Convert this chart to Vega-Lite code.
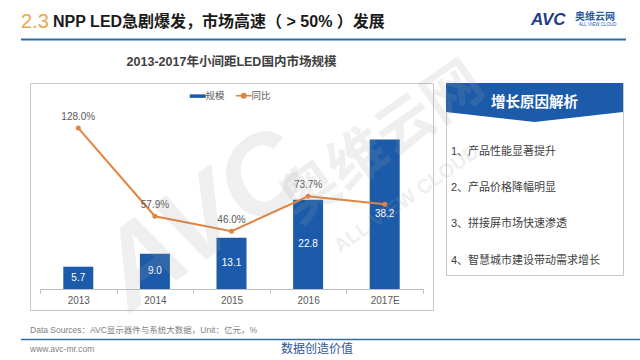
{
  "$schema": "https://vega.github.io/schema/vega-lite/v6.json",
  "background": "white",
  "padding": {"left": 18, "top": 0, "right": 0, "bottom": 0},
  "config": {
    "font": "Liberation Sans, Noto Sans CJK SC, sans-serif",
    "view": {"stroke": null}
  },
  "spacing": 0,
  "bounds": "flush",
  "resolve": {"scale": {"color": "independent"}, "legend": {"color": "independent"}},
  "vconcat": [
    {
      "width": 605,
      "height": 83,
      "layer": [
        {
          "data": {"values": [{"t": "2.3"}]},
          "mark": {"type": "text", "align": "left", "baseline": "middle", "fontSize": 20, "font": "Liberation Sans Narrow, Liberation Sans, sans-serif", "color": "#E9A74F"},
          "encoding": {
            "text": {"field": "t"},
            "x": {"datum": 0, "type": "quantitative", "scale": {"domain": [0, 1]}, "axis": null},
            "y": {"datum": 0.265, "type": "quantitative", "scale": {"domain": [0, 1], "reverse": true}, "axis": null}
          }
        },
        {
          "data": {"values": [{"t": "NPP LED急剧爆发，市场高速（ > 50% ）发展"}]},
          "mark": {"type": "text", "align": "left", "baseline": "middle", "fontSize": 16, "fontWeight": "bold", "color": "#1A1A1A"},
          "encoding": {
            "text": {"field": "t"},
            "x": {"datum": 0.053, "type": "quantitative", "scale": {"domain": [0, 1]}, "axis": null},
            "y": {"datum": 0.265, "type": "quantitative", "scale": {"domain": [0, 1], "reverse": true}, "axis": null}
          }
        },
        {
          "data": {"values": [{"t": "AVC"}]},
          "mark": {"type": "text", "align": "left", "baseline": "middle", "fontSize": 17, "fontWeight": "bold", "fontStyle": "italic", "color": "#1F3E8A"},
          "encoding": {
            "text": {"field": "t"},
            "x": {"datum": 0.843, "type": "quantitative", "scale": {"domain": [0, 1]}, "axis": null},
            "y": {"datum": 0.235, "type": "quantitative", "scale": {"domain": [0, 1], "reverse": true}, "axis": null}
          }
        },
        {
          "data": {"values": [{"t": "奥维云网"}]},
          "mark": {"type": "text", "align": "left", "baseline": "middle", "fontSize": 10, "fontWeight": "bold", "color": "#2B5BA8"},
          "encoding": {
            "text": {"field": "t"},
            "x": {"datum": 0.9157, "type": "quantitative", "scale": {"domain": [0, 1]}, "axis": null},
            "y": {"datum": 0.2, "type": "quantitative", "scale": {"domain": [0, 1], "reverse": true}, "axis": null}
          }
        },
        {
          "data": {"values": [{"t": "ALL VIEW CLOUD"}]},
          "mark": {"type": "text", "align": "left", "baseline": "middle", "fontSize": 4.5, "color": "#2B5BA8"},
          "encoding": {
            "text": {"field": "t"},
            "x": {"datum": 0.922, "type": "quantitative", "scale": {"domain": [0, 1]}, "axis": null},
            "y": {"datum": 0.3, "type": "quantitative", "scale": {"domain": [0, 1], "reverse": true}, "axis": null}
          }
        },
        {
          "data": {"values": [{"line": "header"}]},
          "mark": {"type": "rule", "color": "#2E6DA4", "strokeWidth": 2},
          "encoding": {
            "y": {"datum": 0.477, "type": "quantitative", "scale": {"domain": [0, 1], "reverse": true}, "axis": null}
          }
        }
      ]
    },
    {
      "spacing": 8,
      "bounds": "flush",
      "resolve": {"scale": {"color": "independent"}, "legend": {"color": "independent"}},
      "hconcat": [
        {
          "width": 1,
          "height": 1,
          "data": {"values": [{"blank": ""}]},
          "mark": {"type": "point", "opacity": 0},
          "encoding": {}
        },
        {
          "spacing": 13,
          "bounds": "flush",
          "resolve": {"scale": {"color": "independent"}, "legend": {"color": "independent"}},
          "hconcat": [
            {
              "width": 403,
              "height": 227,
              "view": {"stroke": "#C8C8C8", "strokeWidth": 1, "fill": "white"},
              "title": {"text": "2013-2017年小间距LED国内市场规模", "fontSize": 12.5, "fontWeight": "bold", "color": "#404040", "anchor": "middle", "offset": 15},
              "data": {"values": [
                {"year": "2013", "size": 5.7, "yoy": 1.28},
                {"year": "2014", "size": 9.0, "yoy": 0.579},
                {"year": "2015", "size": 13.1, "yoy": 0.46},
                {"year": "2016", "size": 22.8, "yoy": 0.737},
                {"year": "2017E", "size": 38.2, "yoy": 0.675}
              ]},
              "encoding": {
                "x": {
                  "field": "year", "type": "nominal", "sort": null,
                  "scale": {"type": "band", "range": [10, 393], "paddingInner": 0, "paddingOuter": 0},
                  "axis": {"title": null, "orient": "bottom", "offset": -21, "labelAngle": 0, "labelFontSize": 10, "labelColor": "#595959", "domainColor": "#BFBFBF", "tickColor": "#BFBFBF", "tickSize": 4, "tickBand": "extent", "labelPadding": 2, "grid": false}
                }
              },
              "layer": [
                {
                  "mark": {"type": "bar", "width": 30},
                  "encoding": {
                    "y": {"field": "size", "type": "quantitative", "scale": {"domain": [0, 45], "range": [206, 30]}, "axis": null},
                    "color": {
                      "datum": "规模", "type": "nominal",
                      "scale": {"domain": ["规模", "同比"], "range": ["#1C5BAA", "#E2833F"]},
                      "legend": {
                        "orient": "none", "legendX": 163, "legendY": 8, "direction": "horizontal", "title": null,
                        "symbolSize": 256, "symbolType": "stroke", "labelFontSize": 9.5, "labelColor": "#595959", "labelOffset": 3, "columnPadding": 7, "padding": 0,
                        "encode": {"symbols": {"update": {
                          "shape": {"signal": "datum.value === '规模' ? 'M-1,-0.22H1V0.22H-1Z' : 'M-1,0H1M0.28,0A0.28,0.28,0,1,1,-0.28,0A0.28,0.28,0,1,1,0.28,0'"},
                          "fill": {"signal": "datum.value === '规模' ? '#1C5BAA' : '#E2833F'"},
                          "stroke": {"signal": "datum.value === '规模' ? '#1C5BAA' : '#E2833F'"},
                          "strokeWidth": {"signal": "datum.value === '规模' ? 0 : 1.5"},
                          "opacity": {"value": 1}
                        }}}
                      }
                    }
                  }
                },
                {
                  "mark": {"type": "text", "color": "white", "fontSize": 10, "baseline": "middle"},
                  "encoding": {
                    "y": {"field": "size", "type": "quantitative", "scale": {"domain": [0, 90], "range": [206, 30]}, "axis": null},
                    "text": {"field": "size", "type": "quantitative", "format": ".1f"}
                  }
                },
                {
                  "mark": {"type": "line", "strokeWidth": 2, "point": {"filled": true, "size": 25}},
                  "encoding": {
                    "y": {"field": "yoy", "type": "quantitative", "scale": {"domain": [0, 1.4], "range": [206, 30]}, "axis": null},
                    "color": {"datum": "同比", "type": "nominal"}
                  }
                },
                {
                  "transform": [{"filter": "datum.year !== '2017E'"}],
                  "mark": {"type": "text", "color": "#595959", "fontSize": 10, "dy": -11, "baseline": "middle"},
                  "encoding": {
                    "y": {"field": "yoy", "type": "quantitative", "scale": {"domain": [0, 1.4], "range": [206, 30]}, "axis": null},
                    "text": {"field": "yoy", "type": "quantitative", "format": ".1%"}
                  }
                }
              ],
              "resolve": {"scale": {"y": "independent"}}
            },
            {
              "width": 177,
              "height": 192,
              "view": {"stroke": "#C9C9C9", "strokeWidth": 1},
              "layer": [
                {
                  "data": {"values": [{"heading": "增长原因解析"}]},
                  "mark": {"type": "point", "shape": "M-1,-0.22L1,-0.22L1,0.108L0,0.22L-1,0.108Z", "filled": true, "size": 31329, "color": "#1C5BAA", "opacity": 1, "strokeWidth": 0},
                  "encoding": {
                    "x": {"datum": 0.5, "type": "quantitative", "scale": {"domain": [0, 1]}, "axis": null},
                    "y": {"datum": -0.362, "type": "quantitative", "scale": {"domain": [-0.9, 4.4], "reverse": true}, "axis": null}
                  }
                },
                {
                  "data": {"values": [{"heading": "增长原因解析"}]},
                  "mark": {"type": "text", "fontSize": 14.5, "fontWeight": "bold", "color": "white", "baseline": "middle"},
                  "encoding": {
                    "text": {"field": "heading"},
                    "x": {"datum": 0.5, "type": "quantitative", "scale": {"domain": [0, 1]}, "axis": null},
                    "y": {"datum": -0.35, "type": "quantitative", "scale": {"domain": [-0.9, 4.4], "reverse": true}, "axis": null}
                  }
                },
                {
                  "data": {"values": [
                    {"n": 1, "reason": "1、产品性能显著提升"},
                    {"n": 2, "reason": "2、产品价格降幅明显"},
                    {"n": 3, "reason": "3、拼接屏市场快速渗透"},
                    {"n": 4, "reason": "4、智慧城市建设带动需求增长"}
                  ]},
                  "mark": {"type": "text", "align": "left", "baseline": "middle", "fontSize": 11, "color": "#404040"},
                  "encoding": {
                    "text": {"field": "reason"},
                    "x": {"datum": 0.028, "type": "quantitative", "scale": {"domain": [0, 1]}, "axis": null},
                    "y": {"field": "n", "type": "quantitative", "scale": {"domain": [-0.9, 4.4], "reverse": true}, "axis": null}
                  }
                }
              ]
            }
          ]
        }
      ]
    },
    {
      "width": 622,
      "height": 277,
      "layer": [
        {
          "data": {"values": [{"mark": "AVC"}]},
          "mark": {"type": "text", "align": "center", "baseline": "middle", "fontSize": 110, "fontWeight": "bold", "fontStyle": "italic", "angle": -35, "color": "#A0A0A0", "opacity": 0.16},
          "encoding": {
            "text": {"field": "mark"},
            "x": {"datum": 0.2926, "type": "quantitative", "scale": {"domain": [0, 1]}, "axis": null},
            "y": {"datum": 0.5, "type": "quantitative", "scale": {"domain": [0, 1], "reverse": true}, "axis": null}
          }
        },
        {
          "data": {"values": [{"mark": "奥维云网"}]},
          "mark": {"type": "text", "align": "center", "baseline": "middle", "fontSize": 58, "fontWeight": "bold", "angle": -35, "color": "#A0A0A0", "opacity": 0.16},
          "encoding": {
            "text": {"field": "mark"},
            "x": {"datum": 0.582, "type": "quantitative", "scale": {"domain": [0, 1]}, "axis": null},
            "y": {"datum": 0.22, "type": "quantitative", "scale": {"domain": [0, 1], "reverse": true}, "axis": null}
          }
        },
        {
          "data": {"values": [{"mark": "ALL VIEW CLOUD"}]},
          "mark": {"type": "text", "align": "center", "baseline": "middle", "fontSize": 20, "fontWeight": "bold", "angle": -35, "color": "#A0A0A0", "opacity": 0.16},
          "encoding": {
            "text": {"field": "mark"},
            "x": {"datum": 0.62, "type": "quantitative", "scale": {"domain": [0, 1]}, "axis": null},
            "y": {"datum": 0.42, "type": "quantitative", "scale": {"domain": [0, 1], "reverse": true}, "axis": null}
          }
        },
        {
          "data": {"values": [{"note": "Data Sources：AVC显示器件与系统大数据，Unit：亿元，%"}]},
          "mark": {"type": "text", "align": "left", "baseline": "middle", "fontSize": 8.5, "color": "#7F7F7F"},
          "encoding": {
            "text": {"field": "note"},
            "x": {"datum": 0.0145, "type": "quantitative", "scale": {"domain": [0, 1]}, "axis": null},
            "y": {"datum": 0.8917, "type": "quantitative", "scale": {"domain": [0, 1], "reverse": true}, "axis": null}
          }
        },
        {
          "data": {"values": [{"line": "footer"}]},
          "mark": {"type": "rule", "color": "#2E6DA4", "strokeWidth": 1.5},
          "encoding": {
            "y": {"datum": 0.926, "type": "quantitative", "scale": {"domain": [0, 1], "reverse": true}, "axis": null}
          }
        },
        {
          "data": {"values": [{"site": "www.avc-mr.com"}]},
          "mark": {"type": "text", "align": "left", "baseline": "middle", "fontSize": 8.5, "color": "#7F7F7F"},
          "encoding": {
            "text": {"field": "site"},
            "x": {"datum": 0.0145, "type": "quantitative", "scale": {"domain": [0, 1]}, "axis": null},
            "y": {"datum": 0.9603, "type": "quantitative", "scale": {"domain": [0, 1], "reverse": true}, "axis": null}
          }
        },
        {
          "data": {"values": [{"slogan": "数据创造价值"}]},
          "mark": {"type": "text", "align": "center", "baseline": "middle", "fontSize": 12, "color": "#2F5597", "font": "Noto Sans CJK SC"},
          "encoding": {
            "text": {"field": "slogan"},
            "x": {"datum": 0.476, "type": "quantitative", "scale": {"domain": [0, 1]}, "axis": null},
            "y": {"datum": 0.9603, "type": "quantitative", "scale": {"domain": [0, 1], "reverse": true}, "axis": null}
          }
        }
      ]
    }
  ]
}
